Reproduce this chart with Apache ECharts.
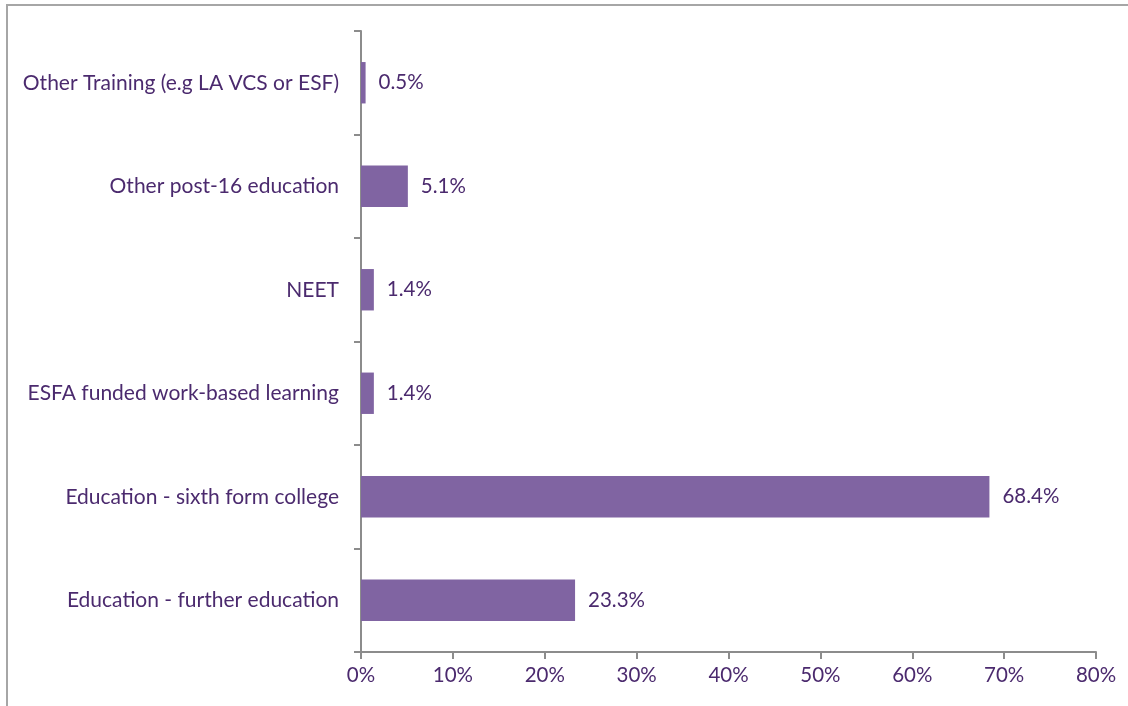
<!DOCTYPE html>
<html><head><meta charset="utf-8">
<script src="https://cdn.jsdelivr.net/npm/echarts@6/dist/echarts.min.js"></script>
<style>html,body{margin:0;padding:0;background:#fff}#c{width:1128px;height:706px}</style>
</head><body><div id="c"></div>
<script>
const categories = ["Education - further education","Education - sixth form college","ESFA funded work-based learning","NEET","Other post-16 education","Other Training (e.g LA VCS or ESF)"];
const values = [23.3, 68.4, 1.4, 1.4, 5.1, 0.5];
const xTicks = [0,10,20,30,40,50,60,70,80];
const font = 'Lato, "Noto Sans", sans-serif';
const textColor = '#4B2A6E';
const chart = echarts.init(document.getElementById('c'));
chart.setOption({
  animation:false,
  graphic:[{type:'rect',shape:{x:7,y:5,width:1300,height:900},style:{fill:'none',stroke:'#a6a6a6',lineWidth:2},silent:true}],
  grid:{left:361,right:32,top:31,bottom:54,containLabel:false},
  xAxis:{type:'value',min:xTicks[0],max:xTicks[xTicks.length-1],interval:10,
    axisLine:{show:true,lineStyle:{color:'#8c8c8c',width:2}},
    axisTick:{show:true,length:7,lineStyle:{color:'#8c8c8c',width:2}},
    splitLine:{show:false},
    axisLabel:{formatter:v=>v+'%',color:textColor,fontFamily:font,fontSize:20.5,margin:13}},
  yAxis:{type:'category',data:categories,
    axisLine:{show:true,lineStyle:{color:'#8c8c8c',width:2}},
    axisTick:{show:true,length:7,lineStyle:{color:'#8c8c8c',width:2}},
    axisLabel:{color:textColor,fontFamily:font,fontSize:21,margin:22}},
  series:[{type:'bar',data:values,barCategoryGap:'60%',
    itemStyle:{color:'#8064A2'},
    label:{show:true,position:'right',distance:13,formatter:p=>p.value.toFixed(1)+'%',color:textColor,fontFamily:font,fontSize:20.5}}]
});
</script></body></html>
